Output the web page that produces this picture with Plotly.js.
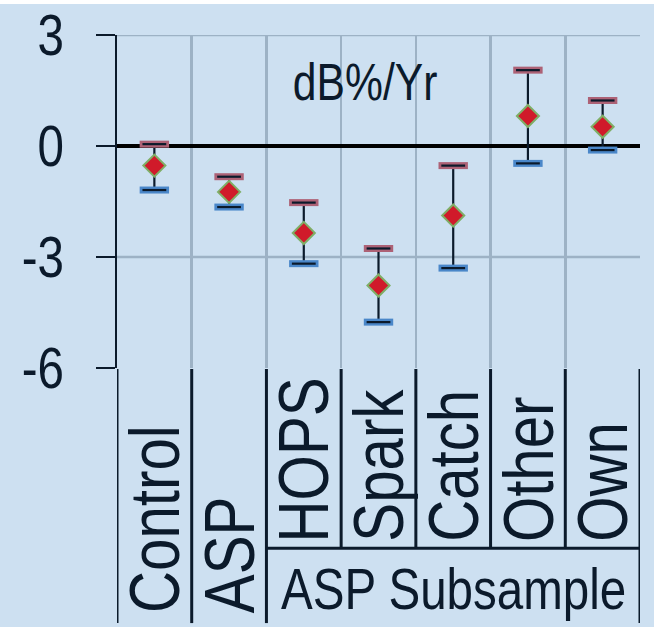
<!DOCTYPE html>
<html>
<head>
<meta charset="utf-8">
<script src="https://cdn.plot.ly/plotly-3.0.1.min.js"></script>
<style>
html,body{margin:0;padding:0;background:#cde0f1;}
#chart{width:654px;height:627px;}
</style>
</head>
<body>
<div id="chart"></div>
<script>
// ---- data ----
const categories = ["Control", "ASP", "HOPS", "Spark", "Catch", "Other", "Own"];
const meanVals  = [-0.53, -1.24, -2.35, -3.77, -1.88, 0.81, 0.52];
const upperVals = [0.05, -0.83, -1.53, -2.77, -0.53, 2.05, 1.23];
const lowerVals = [-1.19, -1.65, -3.18, -4.76, -3.30, -0.47, -0.11];
const yTickVals = [-6, -3, 0, 3];
const yTickText = ["-6", "-3", "0", "3"];
const unitLabel = "dB%/Yr";
const groupLabel = "ASP Subsample";
const subsampleStart = 2; // index of first subsample category

// ---- styles ----
const FONT = "'Liberation Sans', Arial, sans-serif";
const NARROW = 0.82; // horizontal condensing to mimic a narrow face
const INK = "#0b1a2b";
const BG = "#cde0f1";
const GRID = "#9db2c5";

const xs = categories.map((c, i) => i + 0.5);

const traces = [
  { // error bar stems
    x: xs, y: meanVals, type: "scatter", mode: "markers",
    marker: {size: 1, opacity: 0},
    error_y: {type: "data", symmetric: false,
      array: upperVals.map((u, i) => u - meanVals[i]),
      arrayminus: lowerVals.map((l, i) => meanVals[i] - l),
      thickness: 2.2, width: 0, color: INK},
    hoverinfo: "skip", showlegend: false
  },
  { x: xs, y: upperVals, type: "scatter", mode: "markers",
    marker: {symbol: "line-ew", size: 21, line: {width: 7, color: "#ad6276"}},
    showlegend: false },
  { x: xs, y: upperVals, type: "scatter", mode: "markers",
    marker: {symbol: "line-ew", size: 17, line: {width: 2.2, color: INK}},
    showlegend: false },
  { x: xs, y: lowerVals, type: "scatter", mode: "markers",
    marker: {symbol: "line-ew", size: 21, line: {width: 7, color: "#4a87c9"}},
    showlegend: false },
  { x: xs, y: lowerVals, type: "scatter", mode: "markers",
    marker: {symbol: "line-ew", size: 17, line: {width: 2.2, color: INK}},
    showlegend: false },
  { x: xs, y: meanVals, type: "scatter", mode: "markers",
    marker: {symbol: "diamond", size: 17, color: "#d01a2a",
      line: {width: 2, color: "#7fae66"}},
    showlegend: false }
];

// table geometry in paper coords (plot area spans y 0..1)
const tableBottom = -0.766;
const groupLine = -0.541;

const shapes = [];
shapes.push({type: "rect", xref: "paper", yref: "paper", x0: -0.3, x1: 1.1, y0: 1.093, y1: 1.2,
  fillcolor: "#ffffff", line: {width: 0}, layer: "below"});
[3, -3].forEach(v => shapes.push({type: "line", xref: "x", yref: "y", x0: 0, x1: categories.length,
  y0: v, y1: v, line: {color: GRID, width: 2.5}, layer: "below"}));
for (let i = 0; i <= categories.length; i++) {
  const full = (i <= subsampleStart || i === categories.length);
  shapes.push({type: "line", xref: "x", yref: "paper", x0: i, x1: i, y0: -0.003,
    y1: full ? tableBottom : groupLine, line: {color: INK, width: 3}});
}
shapes.push({type: "line", xref: "x", yref: "paper", x0: subsampleStart, x1: categories.length,
  y0: groupLine, y1: groupLine, line: {color: INK, width: 3}});

const annotations = [];
categories.forEach((c, i) => {
  annotations.push({
    x: i + 0.5, xref: "x", yref: "paper",
    y: i < subsampleStart ? -0.739 : -0.526,
    text: c, textangle: -90, showarrow: false,
    xanchor: "center", yanchor: "bottom", borderpad: 0,
    font: {family: FONT, size: 71, color: INK}
  });
});
annotations.push({x: (subsampleStart + categories.length) / 2, xref: "x", y: -0.662, yref: "paper",
  text: groupLabel, showarrow: false, xanchor: "center", yanchor: "middle",
  font: {family: FONT, size: 58, color: INK}});
annotations.push({x: 3.32, xref: "x", y: 1.72, yref: "y", text: unitLabel, showarrow: false,
  xanchor: "center", yanchor: "middle", font: {family: FONT, size: 52, color: INK}});

const layout = {
  width: 654, height: 627,
  margin: {l: 117, r: 14, t: 35, b: 259, pad: 0},
  paper_bgcolor: BG, plot_bgcolor: BG,
  font: {family: FONT, color: INK},
  showlegend: false,
  xaxis: {range: [0, categories.length], tickvals: categories.map((c, i) => i + 1),
    showticklabels: false, ticks: "", showgrid: true, gridcolor: GRID, gridwidth: 2.5,
    zeroline: false, showline: false, fixedrange: true},
  yaxis: {range: [-6, 3], tickvals: yTickVals, ticktext: yTickText,
    ticks: "outside", ticklen: 19, tickwidth: 2, tickcolor: INK,
    showline: true, linecolor: INK, linewidth: 2.5,
    showgrid: false, zeroline: true, zerolinecolor: "#000000", zerolinewidth: 3.5,
    tickfont: {family: FONT, size: 58, color: INK}, ticklabelstandoff: 20, fixedrange: true},
  shapes: shapes,
  annotations: annotations
};

// condense a text element along its own baseline, keeping one reference point fixed
function condense(el, mode) {
  const bb = el.getBBox();
  let ax = bb.x + bb.width / 2;
  if (mode === "start") ax = bb.x;
  if (mode === "end") ax = bb.x + bb.width;
  const prev = el.getAttribute("transform") || "";
  el.setAttribute("transform", prev + " translate(" + ax + ",0) scale(" + NARROW + ",1) translate(" + (-ax) + ",0)");
}

Plotly.newPlot("chart", traces, layout, {displayModeBar: false, staticPlot: true}).then(gd => {
  gd.querySelectorAll(".annotation").forEach(g => {
    const idx = +g.getAttribute("data-index");
    const t = g.querySelector("text.annotation-text");
    if (!t) return;
    condense(t, idx < categories.length ? "start" : "middle");
  });
  gd.querySelectorAll(".ytick text").forEach(t => condense(t, "end"));
});
</script>
</body>
</html>
